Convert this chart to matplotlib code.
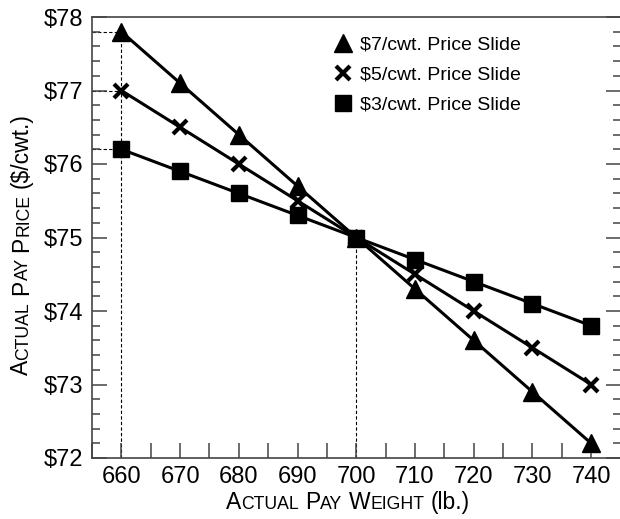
import matplotlib
matplotlib.use('Agg')
import matplotlib.pyplot as plt
from matplotlib.lines import Line2D
from matplotlib.ticker import MultipleLocator, FuncFormatter
import matplotlib.transforms as mtransforms

plt.rcParams['font.family'] = ['Liberation Sans', 'DejaVu Sans']

# data
weights = [660, 670, 680, 690, 700, 710, 720, 730, 740]
slide7 = [77.8, 77.1, 76.4, 75.7, 75.0, 74.3, 73.6, 72.9, 72.2]
slide5 = [77.0, 76.5, 76.0, 75.5, 75.0, 74.5, 74.0, 73.5, 73.0]
slide3 = [76.2, 75.9, 75.6, 75.3, 75.0, 74.7, 74.4, 74.1, 73.8]
series_labels = [r'\$7/cwt. Price Slide', r'\$5/cwt. Price Slide', r'\$3/cwt. Price Slide']

# reference lines (base weight 700, lightest weight 660)
base_weight = 700
base_price = 75.0

fig = plt.figure(figsize=(6.2, 5.19), dpi=100)
ax = fig.add_axes([92/620, 61/519, 528.5/620, 441/519])

# dashed guide lines
ax.plot([660, 660], [72, slide7[0]], color='k', lw=0.8, ls=(0, (3, 2)), zorder=1)
ax.plot([base_weight, base_weight], [72, base_price], color='k', lw=0.8, ls=(0, (3, 2)), zorder=1)
for v in [slide7[0], slide5[0], slide3[0]]:
    ax.plot([655, 660], [v, v], color='k', lw=0.8, ls=(0, (3, 2)), zorder=1)

ax.plot(weights, slide7, color='k', lw=2.2, marker='^', ms=12.5, zorder=3)
ax.plot(weights, slide5, color='k', lw=2.2, marker='x', ms=10.5, mew=3, zorder=3)
ax.plot(weights, slide3, color='k', lw=2.2, marker='s', ms=11.5, zorder=3)

ax.set_xlim(655, 745)
ax.set_ylim(72, 78)
ax.xaxis.set_major_locator(MultipleLocator(10))
ax.xaxis.set_minor_locator(MultipleLocator(5))
ax.yaxis.set_major_locator(MultipleLocator(1))
ax.yaxis.set_minor_locator(MultipleLocator(0.2))
ax.yaxis.set_major_formatter(FuncFormatter(lambda v, p: r'\$%d' % round(v)))

ax.tick_params(which='both', direction='in', right=True, top=False, color='#444', width=1.1)
ax.tick_params(axis='x', which='both', length=10.5, labelsize=17, pad=6)
ax.tick_params(axis='y', which='major', length=10.5, labelsize=17, pad=6)
ax.tick_params(axis='y', which='minor', length=5.8)
for s in ax.spines.values():
    s.set_color('#444')
    s.set_linewidth(1.2)

handles = [Line2D([], [], ls='none', color='k', marker='^', ms=12.5),
           Line2D([], [], ls='none', color='k', marker='x', ms=10.5, mew=3),
           Line2D([], [], ls='none', color='k', marker='s', ms=11.5)]
fig.legend(handles, series_labels, loc='upper left', bbox_to_anchor=(333/620, (519-36)/519),
           frameon=False, fontsize=14, handlelength=1.0, handletextpad=0.39,
           labelspacing=0.63, borderpad=0, borderaxespad=0)


# small caps axis titles, drawn piece by piece
def small_caps(x0, y0, parts, big, small, vertical=False):
    renderer = fig.canvas.get_renderer()
    pieces = []
    for s, is_big in parts:
        size = big if is_big else small
        if s == ' ':
            w = 0.278 * big * fig.dpi / 72
        else:
            t = fig.text(0, 0, s, fontsize=size)
            w = t.get_window_extent(renderer).width
            t.remove()
        pieces.append((s, size, w))
    total = sum(p[2] for p in pieces)
    pos = -total / 2
    for s, size, w in pieces:
        if s != ' ':
            if vertical:
                fig.text(x0, y0 + pos, s, fontsize=size, rotation=90, rotation_mode='anchor',
                         ha='left', va='baseline', transform=mtransforms.IdentityTransform())
            else:
                fig.text(x0 + pos, y0, s, fontsize=size, ha='left', va='baseline',
                         transform=mtransforms.IdentityTransform())
        pos += w


xparts = [('A', 1), ('CTUAL', 0), (' ', 1), ('P', 1), ('AY', 0), (' ', 1),
          ('W', 1), ('EIGHT', 0), (' ', 1), ('(lb.)', 1)]
yparts = [('A', 1), ('CTUAL', 0), (' ', 1), ('P', 1), ('AY', 0), (' ', 1),
          ('P', 1), ('RICE', 0), (' ', 1), (r'(\$/cwt.)', 1)]
small_caps(348, 10, xparts, 16.5, 12.7)
small_caps(28, 275, yparts, 16.5, 12.7, vertical=True)

fig.savefig('out.png', dpi=100)
